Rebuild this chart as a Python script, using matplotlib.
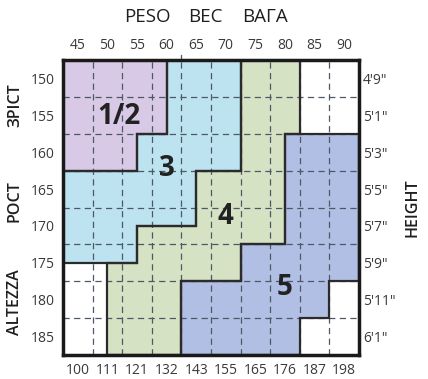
import matplotlib
matplotlib.use("Agg")
import matplotlib.pyplot as plt
from matplotlib.patches import Polygon

plt.rcParams['font.family'] = ['Open Sans', 'DejaVu Sans']

# ---- data ----
weight_kg = ["45", "50", "55", "60", "65", "70", "75", "80", "85", "90"]
weight_lb = ["100", "111", "121", "132", "143", "155", "165", "176", "187", "198"]
height_cm = ["150", "155", "160", "165", "170", "175", "180", "185"]
height_ft = ["4'9\"", "5'1\"", "5'3\"", "5'5\"", "5'7\"", "5'9\"", "5'11\"", "6'1\""]

size_names = ["1/2", "3", "4", "5"]
# each size zone as row spans: (row_from, row_to, col_from, col_to) in grid units
zone_12 = [(0, 2, 0, 3.5), (2, 3, 0, 2.5)]
zone_3 = [(0, 2, 3.5, 6), (2, 3, 2.5, 6), (3, 4.5, 0, 4.5), (4.5, 5.5, 0, 2.5)]
zone_4 = [(0, 2, 6, 8), (2, 3, 6, 7.5), (3, 4.5, 4.5, 7.5), (4.5, 5, 2.5, 7.5),
          (5, 5.5, 2.5, 6), (5.5, 6, 1.5, 6), (6, 8, 1.5, 4)]
zone_5 = [(2, 5, 7.5, 10), (5, 6, 6, 10), (6, 7, 4, 9), (7, 8, 4, 8)]
zones = [zone_12, zone_3, zone_4, zone_5]
label_pos = [(1.9, 1.52), (3.5, 2.93), (5.47, 4.25), (7.5, 6.18)]
colors = ["#d8c9e6", "#bde3f0", "#d6e2c4", "#b2bfe5"]

W, H = 428, 379
fig = plt.figure(figsize=(W / 100, H / 100), dpi=100)
ax = fig.add_axes([63 / W, 1 - 355 / H, (359 - 63) / W, (355 - 60) / H])
ax.set_xlim(0, len(weight_kg))
ax.set_ylim(len(height_cm), 0)


def outline(spans):
    spans = sorted(spans)
    right = []
    left = []
    for y0, y1, x0, x1 in spans:
        right += [(x1, y0), (x1, y1)]
        left += [(x0, y0), (x0, y1)]
    return right + left[::-1]


for spans, c in zip(zones, colors):
    ax.add_patch(Polygon(outline(spans), closed=True, facecolor=c,
                         edgecolor='none', zorder=1))

# dashed grid
grid_c = "#4d5866"
for i in range(1, len(weight_kg)):
    ax.axvline(i, color=grid_c, lw=0.9, ls=(0, (5, 3.5)), zorder=2)
for j in range(1, len(height_cm)):
    ax.axhline(j, color=grid_c, lw=0.9, ls=(0, (5, 3.5)), zorder=2)
ax.plot([4, 4], [-0.14, 0], color=grid_c, lw=0.9, clip_on=False, zorder=2)

for spans in zones:
    ax.add_patch(Polygon(outline(spans), closed=True, facecolor='none',
                         edgecolor='#2b2b2b', lw=1.6, zorder=3, joinstyle='miter'))

for name, (x, y) in zip(size_names, label_pos):
    ax.text(x, y, name, ha='center', va='center', fontsize=20,
            fontweight='bold', color='#222222', zorder=4)

tick_c = '#3a3a3a'
centers_x = [i + 0.5 for i in range(len(weight_kg))]
centers_y = [j + 0.5 for j in range(len(height_cm))]

axb = ax.twiny()
axr = ax.twinx()

ax.set_xticks(centers_x)
ax.set_xticklabels(weight_kg)
ax.set_yticks(centers_y)
ax.set_yticklabels(height_cm)
ax.tick_params(axis='x', which='both', length=0, pad=5, labelsize=10,
               labelcolor=tick_c, top=False, bottom=False,
               labeltop=True, labelbottom=False)
ax.tick_params(axis='y', which='both', length=0, pad=6, labelsize=10,
               labelcolor=tick_c, left=False, right=False,
               labelleft=True, labelright=False)

axb.set_xlim(ax.get_xlim())
axb.set_xticks(centers_x)
axb.set_xticklabels(weight_lb)
axb.tick_params(axis='x', which='both', length=0, pad=6, labelsize=10,
                labelcolor=tick_c, top=False, bottom=False,
                labeltop=False, labelbottom=True)
axb.yaxis.set_visible(False)
for s in axb.spines.values():
    s.set_visible(False)

axr.set_ylim(ax.get_ylim())
axr.set_yticks(centers_y)
axr.set_yticklabels(height_ft)
axr.tick_params(axis='y', which='both', length=0, pad=3, labelsize=10,
                labelcolor=tick_c, left=False, right=False,
                labelleft=False, labelright=True)
axr.xaxis.set_visible(False)
for s in axr.spines.values():
    s.set_visible(False)

for s in ax.spines.values():
    s.set_linewidth(2.5)
    s.set_color('#1a1a1a')
    s.set_zorder(5)

title_c = '#1e1e1e'
for txt, x in [("PESO", 147.5), ("ВЕС", 205), ("ВАГА", 265.5)]:
    fig.text(x / W, 1 - 17 / H, txt, ha='center', va='center', fontsize=13.5,
             color=title_c, fontweight='medium')
for txt, y in [("ЗРІСТ", 105), ("РОСТ", 201), ("ALTEZZA", 302)]:
    fig.text(15 / W, 1 - y / H, txt, ha='center', va='center', fontsize=11.5,
             rotation=90, color=title_c, fontweight='semibold')
fig.text(413 / W, 1 - 208 / H, "HEIGHT", ha='center', va='center', fontsize=11.5,
         rotation=90, color=title_c, fontweight='semibold')

fig.savefig("out.png", dpi=100, facecolor='white')
